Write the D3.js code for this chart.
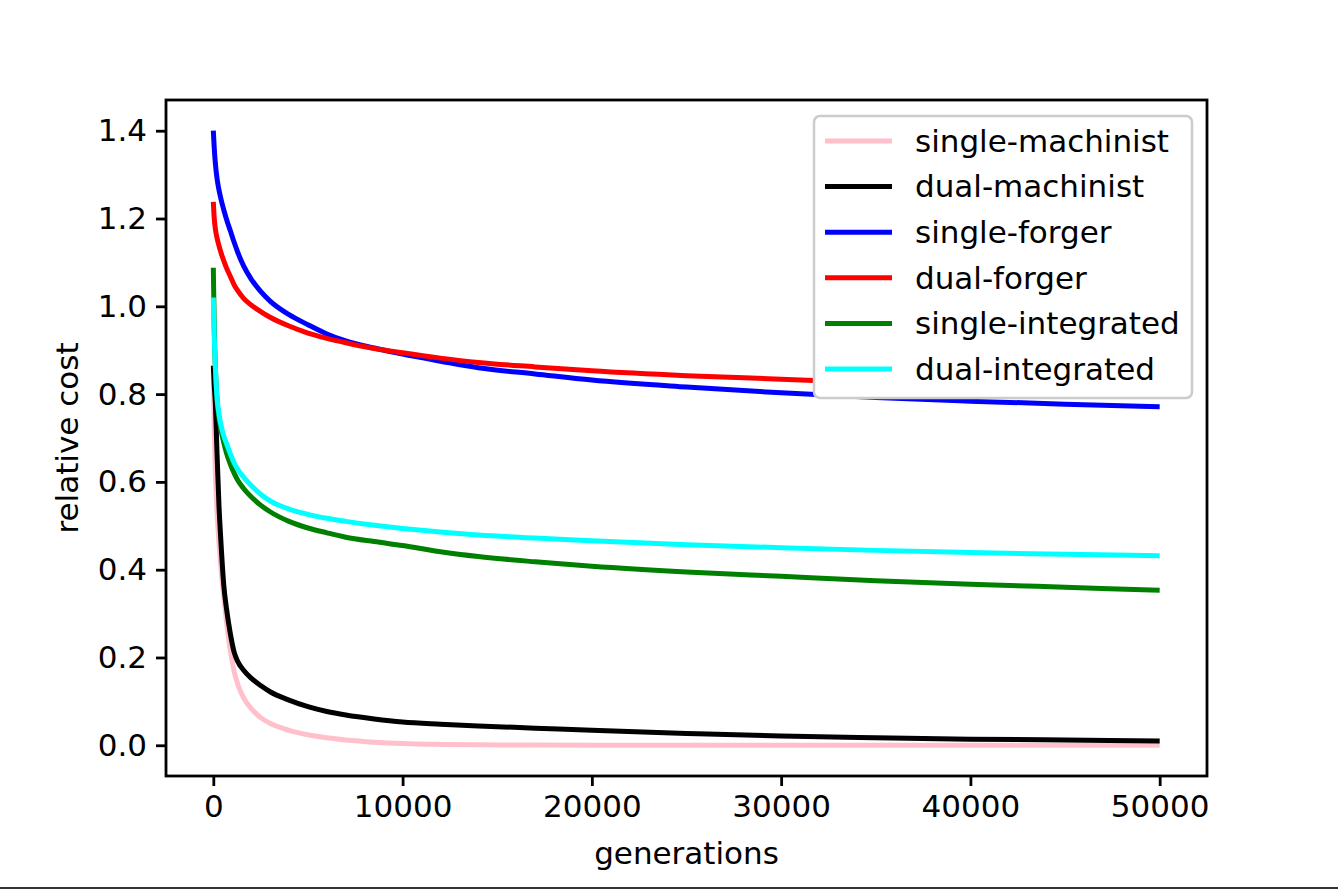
<!DOCTYPE html>
<html>
<head>
<meta charset="utf-8">
<script src="https://cdn.jsdelivr.net/npm/d3@7"></script>
<style>
  html, body { margin: 0; padding: 0; background: #fff; }
  svg { display: block; font-family: "DejaVu Sans", sans-serif; }
</style>
</head>
<body>
<div id="chart"></div>
<script>
// generation sample points (shared by all series)
const generations = [0, 50, 100, 200, 300, 400, 550, 700, 900, 1100, 1300, 1600, 2000, 2500, 3000,
  4000, 5000, 6000, 7000, 8500, 10000, 12000, 14000, 17000, 20000, 25000, 30000, 35000, 40000, 45000, 50000];

const singleMachinist = [0.86, 0.72, 0.63, 0.53, 0.46, 0.405, 0.34, 0.28, 0.215, 0.168, 0.138, 0.108, 0.084, 0.063, 0.05,
  0.034, 0.024, 0.017, 0.012, 0.007, 0.004, 0.002, 0.001, 0.0005, 0.0, 0.0, 0.0, 0.0, 0.0, 0.0, 0.0];
const dualMachinist = [0.865, 0.82, 0.785, 0.66, 0.545, 0.465, 0.366, 0.31, 0.254, 0.212, 0.19, 0.171, 0.153, 0.136, 0.122,
  0.103, 0.088, 0.077, 0.069, 0.06, 0.053, 0.048, 0.044, 0.039, 0.034, 0.027, 0.021, 0.017, 0.014, 0.012, 0.010];
const singleForger = [1.40, 1.36, 1.33, 1.29, 1.265, 1.245, 1.22, 1.198, 1.172, 1.146, 1.122, 1.092, 1.062, 1.034, 1.012,
  0.981, 0.958, 0.937, 0.921, 0.905, 0.891, 0.875, 0.86, 0.846, 0.832, 0.816, 0.803, 0.792, 0.784, 0.777, 0.771];
const dualForger = [1.238, 1.20, 1.179, 1.155, 1.138, 1.123, 1.104, 1.087, 1.068, 1.049, 1.035, 1.018, 1.003, 0.988, 0.975,
  0.955, 0.939, 0.927, 0.917, 0.904, 0.894, 0.882, 0.872, 0.862, 0.853, 0.842, 0.834, 0.826, 0.819, 0.812, 0.806];
const singleIntegrated = [1.088, 0.95, 0.87, 0.785, 0.745, 0.72, 0.69, 0.665, 0.64, 0.62, 0.603, 0.585, 0.566, 0.547, 0.532,
  0.51, 0.495, 0.484, 0.474, 0.464, 0.455, 0.441, 0.43, 0.418, 0.408, 0.395, 0.385, 0.375, 0.367, 0.36, 0.353];
const dualIntegrated = [1.02, 0.93, 0.87, 0.79, 0.755, 0.73, 0.705, 0.687, 0.664, 0.643, 0.628, 0.611, 0.592, 0.572, 0.557,
  0.538, 0.526, 0.517, 0.51, 0.501, 0.494, 0.486, 0.479, 0.472, 0.466, 0.457, 0.45, 0.444, 0.439, 0.435, 0.432];

const seriesNames = ['single-machinist', 'dual-machinist', 'single-forger', 'dual-forger',
  'single-integrated', 'dual-integrated'];
const seriesColors = ['pink', 'black', 'blue', 'red', 'green', 'cyan'];
const seriesValues = [singleMachinist, dualMachinist, singleForger, dualForger, singleIntegrated, dualIntegrated];

const xTicks = [0, 10000, 20000, 30000, 40000, 50000];
const yTicks = [0.0, 0.2, 0.4, 0.6, 0.8, 1.0, 1.2, 1.4];

const width = 1338;
const height = 891;
const plot = { left: 166, right: 1207, top: 100, bottom: 776 };
const fontSize = 31;

const svg = d3.select('#chart')
  .append('svg')
  .attr('width', width)
  .attr('height', height);

// matplotlib-like 5% margins
const x = d3.scaleLinear().domain([-2500, 52500]).range([plot.left, plot.right]);
const y = d3.scaleLinear().domain([-0.07, 1.47]).range([plot.bottom, plot.top]);

svg.append('defs').append('clipPath')
  .attr('id', 'plot-clip')
  .append('rect')
  .attr('x', plot.left)
  .attr('y', plot.top)
  .attr('width', plot.right - plot.left)
  .attr('height', plot.bottom - plot.top);

// Draw series
const line = d3.line()
  .x(d => x(d[0]))
  .y(d => y(d[1]))
  .curve(d3.curveMonotoneX);

const series = seriesNames.map((name, i) => ({
  name: name,
  color: seriesColors[i],
  points: generations.map((g, j) => [g, seriesValues[i][j]])
}));

svg.append('g')
  .attr('clip-path', 'url(#plot-clip)')
  .selectAll('path')
  .data(series)
  .join('path')
  .attr('d', d => line(d.points))
  .attr('fill', 'none')
  .attr('stroke', d => d.color)
  .attr('stroke-width', 5)
  .attr('stroke-linejoin', 'round')
  .attr('stroke-linecap', 'butt');

// Axes
const xAxis = d3.axisBottom(x)
  .tickValues(xTicks)
  .tickFormat(d3.format('d'))
  .tickSize(10)
  .tickPadding(9);

const yAxis = d3.axisLeft(y)
  .tickValues(yTicks)
  .tickFormat(d3.format('.1f'))
  .tickSize(10)
  .tickPadding(9);

const gx = svg.append('g')
  .attr('transform', `translate(0,${plot.bottom})`)
  .call(xAxis);

const gy = svg.append('g')
  .attr('transform', `translate(${plot.left},0)`)
  .call(yAxis);

[gx, gy].forEach(g => {
  g.select('.domain').remove();
  g.selectAll('.tick line').attr('stroke', '#000').attr('stroke-width', 2.8);
  g.selectAll('.tick text')
    .attr('fill', '#000')
    .style('font-size', fontSize + 'px')
    .style('font-family', '"DejaVu Sans", sans-serif');
});

// Frame (spines)
svg.append('rect')
  .attr('x', plot.left)
  .attr('y', plot.top)
  .attr('width', plot.right - plot.left)
  .attr('height', plot.bottom - plot.top)
  .attr('fill', 'none')
  .attr('stroke', '#000')
  .attr('stroke-width', 2.8);

// Axis labels
svg.append('text')
  .attr('x', (plot.left + plot.right) / 2)
  .attr('y', 864)
  .attr('text-anchor', 'middle')
  .style('font-size', fontSize + 'px')
  .text('generations');

svg.append('text')
  .attr('transform', `translate(78,${(plot.top + plot.bottom) / 2}) rotate(-90)`)
  .attr('text-anchor', 'middle')
  .style('font-size', fontSize + 'px')
  .text('relative cost');

// Legend
const legend = svg.append('g').attr('transform', 'translate(814,116)');

legend.append('rect')
  .attr('width', 378)
  .attr('height', 282)
  .attr('rx', 6)
  .attr('fill', '#fff')
  .attr('stroke', '#cccccc')
  .attr('stroke-width', 2.5);

const rowHeight = 45.6;
const legendRow = legend.selectAll('g.row')
  .data(series)
  .join('g')
  .attr('class', 'row')
  .attr('transform', (d, i) => `translate(0,${25 + i * rowHeight})`);

legendRow.append('line')
  .attr('x1', 11)
  .attr('x2', 78)
  .attr('stroke', d => d.color)
  .attr('stroke-width', 5);

legendRow.append('text')
  .attr('x', 101)
  .attr('dy', '0.35em')
  .style('font-size', fontSize + 'px')
  .text(d => d.name);

// bottom edge line seen in the picture
svg.append('line')
  .attr('x1', 0)
  .attr('x2', width)
  .attr('y1', 888)
  .attr('y2', 888)
  .attr('stroke', '#333')
  .attr('stroke-width', 2);
</script>
</body>
</html>
